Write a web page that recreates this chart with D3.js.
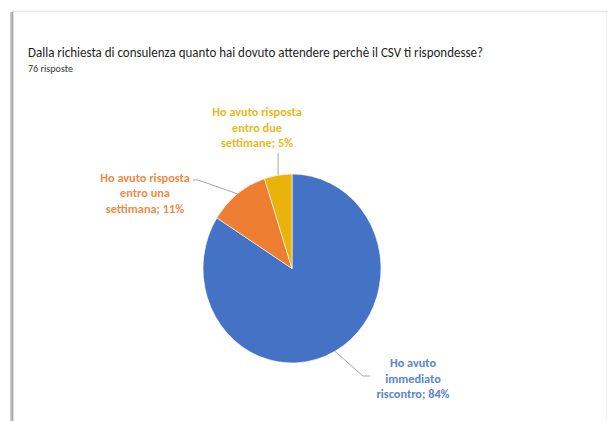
<!DOCTYPE html>
<html>
<head>
<meta charset="utf-8">
<script src="https://cdn.jsdelivr.net/npm/d3@7/dist/d3.min.js"></script>
<style>
  html, body { margin: 0; padding: 0; background: #ffffff; }
  svg { display: block; }
</style>
</head>
<body>
<svg id="chart" width="608" height="421"></svg>
<script>
const categories = ["Ho avuto immediato riscontro", "Ho avuto risposta entro una settimana", "Ho avuto risposta entro due settimane"];
const values = [84, 11, 5];
const labelLines = [
  ["Ho avuto", "immediato", "riscontro; 84%"],
  ["Ho avuto risposta", "entro una", "settimana; 11%"],
  ["Ho avuto risposta", "entro due", "settimane; 5%"]
];
const colors = ["#4472C4", "#ED7D31", "#E8B30A"];
const textColors = ["#5B84D1", "#EF8A45", "#E9B820"];
const title = "Dalla richiesta di consulenza quanto hai dovuto attendere perchè il CSV ti rispondesse?";
const subtitle = "76 risposte";

const svg = d3.select("#chart");
const FONT = "'Liberation Sans Narrow', 'Arial Narrow', Carlito, Lato, 'Open Sans', sans-serif";

// frame
svg.append("line").attr("x1", 12).attr("x2", 608).attr("y1", 11.5).attr("y2", 11.5)
  .attr("stroke", "#e6e6e6").attr("stroke-width", 1.5);
const shadow = [["#d0d0d0", 10], ["#b8b8b8", 11], ["#a8a8a8", 12], ["#dcdcdc", 13]];
shadow.forEach(([c, x]) => svg.append("line").attr("x1", x + 0.5).attr("x2", x + 0.5)
  .attr("y1", 12).attr("y2", 421).attr("stroke", c).attr("stroke-width", 1));
svg.append("line").attr("x1", 606.5).attr("x2", 606.5).attr("y1", 12).attr("y2", 421)
  .attr("stroke", "#f0f0f0").attr("stroke-width", 1);

// titles
svg.append("text").attr("x", 28).attr("y", 57).text(title)
  .attr("font-family", FONT).attr("font-size", 13.5).attr("fill", "#1e1e1e")
  .attr("textLength", 455).attr("lengthAdjust", "spacingAndGlyphs");
svg.append("text").attr("x", 28).attr("y", 72).text(subtitle)
  .attr("font-family", FONT).attr("font-size", 10.5).attr("fill", "#333")
  .attr("textLength", 45).attr("lengthAdjust", "spacingAndGlyphs");

// pie
const cx = 292, cy = 268.5, r = 89, sy = 94.5 / 89;
const pie = d3.pie().sort(null).value(d => d)(values);
const arc = d3.arc().innerRadius(0).outerRadius(r);
const g = svg.append("g").attr("transform", `translate(${cx},${cy}) scale(1,${sy})`);
g.selectAll("path").data(pie).join("path")
  .attr("d", arc).attr("fill", (d, i) => colors[i])
  .attr("stroke", "#ffffff").attr("stroke-width", 0.6);

// labels layout (annotation positions)
const labelPos = [
  { x: 413, y: 363, bend: [363, 376], end: [370, 376] },
  { x: 145, y: 177.5, bend: [198, 180], end: [193, 180] },
  { x: 257, y: 112, bend: null, end: [278, 153] }
];
pie.forEach((d, i) => {
  const mid = (d.startAngle + d.endAngle) / 2;
  const px = cx + r * Math.sin(mid), py = cy - r * sy * Math.cos(mid);
  const lp = labelPos[i];
  let pts = [[px, py]];
  if (i === 2) pts.push([px, lp.end[1]]);
  else { pts.push(lp.bend); pts.push(lp.end); }
  svg.append("path").attr("d", d3.line()(pts)).attr("fill", "none")
    .attr("stroke", "#a6a6a6").attr("stroke-width", 1);
  const t = svg.append("text").attr("text-anchor", "middle")
    .attr("font-family", FONT).attr("font-weight", "bold").attr("font-size", 12.3)
    .attr("fill", textColors[i]);
  labelLines[i].forEach((ln, k) => {
    t.append("tspan").attr("x", lp.x).attr("y", lp.y + k * 15.5 + 4).text(ln);
  });
});
</script>
</body>
</html>
